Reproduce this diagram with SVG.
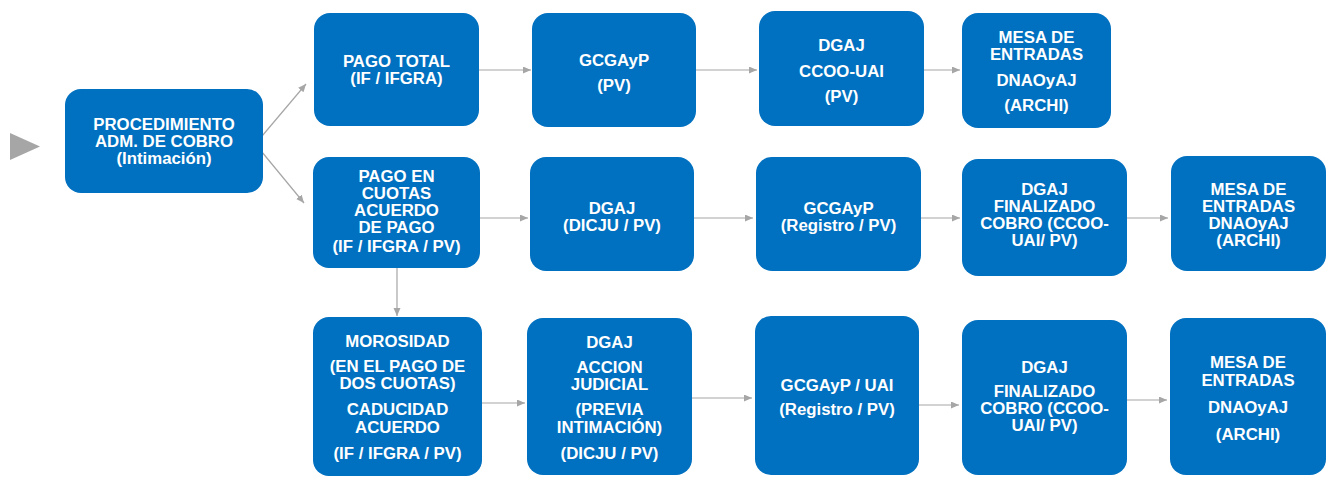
<svg xmlns="http://www.w3.org/2000/svg" width="1327" height="477" viewBox="0 0 1327 477">
<style>
.box{fill:#0070C0}
text{font-family:"Liberation Sans",Arial,sans-serif;font-weight:bold;font-size:16.8px;fill:#ffffff;text-anchor:middle}
.con{stroke:#a6a6a6;stroke-width:1.2;fill:none;marker-end:url(#ah)}
</style>
<defs>
<marker id="ah" markerUnits="userSpaceOnUse" markerWidth="9" markerHeight="8" refX="8" refY="3.5" orient="auto">
<path d="M0,0 L8,3.5 L0,7 z" fill="#a6a6a6"/>
</marker>
</defs>
<rect width="1327" height="477" fill="#ffffff"/>
<polygon points="10,133 40,146.5 10,160" fill="#a6a6a6"/>
<g id="connectors">
<line class="con" x1="257" y1="142" x2="306" y2="84"/>
<line class="con" x1="257" y1="146" x2="304" y2="203"/>
<line class="con" x1="479" y1="70" x2="531" y2="70"/>
<line class="con" x1="696" y1="70" x2="757" y2="70"/>
<line class="con" x1="924" y1="70" x2="960" y2="70"/>
<line class="con" x1="480" y1="218" x2="528" y2="218"/>
<line class="con" x1="694" y1="218" x2="753" y2="218"/>
<line class="con" x1="921" y1="218" x2="960" y2="218"/>
<line class="con" x1="1127" y1="218" x2="1168" y2="218"/>
<line class="con" x1="397" y1="268" x2="397" y2="316"/>
<line class="con" x1="482" y1="403" x2="525" y2="403"/>
<line class="con" x1="692" y1="398" x2="752" y2="398"/>
<line class="con" x1="919" y1="405" x2="959" y2="405"/>
<line class="con" x1="1127" y1="400" x2="1167" y2="400"/>
</g>
<g id="n-procedimiento">
<rect class="box" x="65" y="89" width="198" height="104" rx="16"/>
<text x="164" y="130">PROCEDIMIENTO</text>
<text x="164" y="147">ADM. DE COBRO</text>
<text x="164" y="164">(Intimación)</text>
</g>
<g id="n-pago-total">
<rect class="box" x="314" y="13" width="165" height="113" rx="16"/>
<text x="396.5" y="67">PAGO TOTAL</text>
<text x="396.5" y="84">(IF / IFGRA)</text>
</g>
<g id="n-gcgayp-1">
<rect class="box" x="532" y="13" width="164" height="114" rx="16"/>
<text x="614" y="66">GCGAyP</text>
<text x="614" y="91">(PV)</text>
</g>
<g id="n-dgaj-1">
<rect class="box" x="759" y="11" width="165" height="115" rx="16"/>
<text x="841.5" y="51">DGAJ</text>
<text x="841.5" y="77">CCOO-UAI</text>
<text x="841.5" y="102">(PV)</text>
</g>
<g id="n-mesa-1">
<rect class="box" x="962" y="13" width="149" height="115" rx="16"/>
<text x="1036.5" y="43">MESA DE</text>
<text x="1036.5" y="60">ENTRADAS</text>
<text x="1036.5" y="86">DNAOyAJ</text>
<text x="1036.5" y="111">(ARCHI)</text>
</g>
<g id="n-pago-cuotas">
<rect class="box" x="313" y="157" width="167" height="111" rx="16"/>
<text x="396.5" y="182">PAGO EN</text>
<text x="396.5" y="199">CUOTAS</text>
<text x="396.5" y="216">ACUERDO</text>
<text x="396.5" y="233">DE PAGO</text>
<text x="396.5" y="252">(IF / IFGRA / PV)</text>
</g>
<g id="n-dgaj-2">
<rect class="box" x="530" y="157" width="164" height="114" rx="16"/>
<text x="612" y="214">DGAJ</text>
<text x="612" y="231">(DICJU / PV)</text>
</g>
<g id="n-gcgayp-2">
<rect class="box" x="756" y="157" width="165" height="114" rx="16"/>
<text x="838.5" y="214">GCGAyP</text>
<text x="838.5" y="231">(Registro / PV)</text>
</g>
<g id="n-dgaj-fin-2">
<rect class="box" x="962" y="159" width="165" height="117" rx="16"/>
<text x="1044.5" y="195">DGAJ</text>
<text x="1044.5" y="212">FINALIZADO</text>
<text x="1044.5" y="229">COBRO (CCOO-</text>
<text x="1044.5" y="246">UAI/ PV)</text>
</g>
<g id="n-mesa-2">
<rect class="box" x="1171" y="156" width="155" height="115" rx="16"/>
<text x="1248.5" y="195">MESA DE</text>
<text x="1248.5" y="212">ENTRADAS</text>
<text x="1248.5" y="229">DNAOyAJ</text>
<text x="1248.5" y="246">(ARCHI)</text>
</g>
<g id="n-morosidad">
<rect class="box" x="313" y="317" width="169" height="159" rx="16"/>
<text x="397.5" y="347">MOROSIDAD</text>
<text x="397.5" y="372">(EN EL PAGO DE</text>
<text x="397.5" y="389">DOS CUOTAS)</text>
<text x="397.5" y="415">CADUCIDAD</text>
<text x="397.5" y="433">ACUERDO</text>
<text x="397.5" y="459">(IF / IFGRA / PV)</text>
</g>
<g id="n-dgaj-accion">
<rect class="box" x="527" y="318" width="165" height="157" rx="16"/>
<text x="609.5" y="348">DGAJ</text>
<text x="609.5" y="373">ACCION</text>
<text x="609.5" y="390">JUDICIAL</text>
<text x="609.5" y="415">(PREVIA</text>
<text x="609.5" y="433">INTIMACIÓN)</text>
<text x="609.5" y="459">(DICJU / PV)</text>
</g>
<g id="n-gcgayp-uai">
<rect class="box" x="755" y="316" width="164" height="159" rx="16"/>
<text x="837" y="391">GCGAyP / UAI</text>
<text x="837" y="415">(Registro / PV)</text>
</g>
<g id="n-dgaj-fin-3">
<rect class="box" x="962" y="320" width="165" height="155" rx="16"/>
<text x="1044.5" y="373">DGAJ</text>
<text x="1044.5" y="397">FINALIZADO</text>
<text x="1044.5" y="414">COBRO (CCOO-</text>
<text x="1044.5" y="431">UAI/ PV)</text>
</g>
<g id="n-mesa-3">
<rect class="box" x="1170" y="318" width="156" height="157" rx="16"/>
<text x="1248" y="368">MESA DE</text>
<text x="1248" y="386">ENTRADAS</text>
<text x="1248" y="413">DNAOyAJ</text>
<text x="1248" y="440">(ARCHI)</text>
</g>
</svg>
